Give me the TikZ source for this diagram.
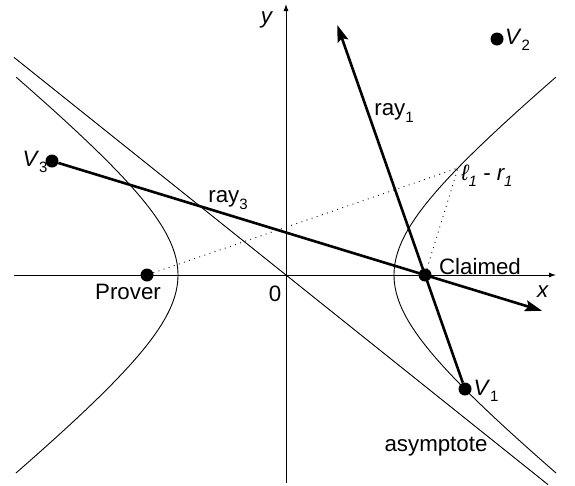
\documentclass[tikz,border=0pt]{standalone}
\usepackage{fontspec}
\setmainfont{Liberation Sans}
\usetikzlibrary{arrows.meta,calc}
\newcommand\lowsub[1]{\raisebox{-0.28em}{\fontsize{15}{15}\selectfont #1}}
\begin{document}
\begin{tikzpicture}[x=1pt,y=-1pt,
  thinline/.style={line width=0.9pt},
  axis/.style={line width=0.9pt,-{Latex[length=7pt,width=5pt]}},
  rayline/.style={line width=2.6pt,-{Stealth[length=17pt,width=11pt,inset=3pt]}},
  dot/.style={circle,fill=black,inner sep=0pt,minimum size=13pt},
  lbl/.style={inner sep=0pt,font=\fontsize{22.3}{26}\selectfont},
  dots/.style={line width=0.9pt,dash pattern=on 0.9pt off 4.5pt}]
\useasboundingbox (0,0) rectangle (575,485);
% asymptote
\coordinate (asyA) at (14,57.4);
\coordinate (asyB) at (548,484.6);
\draw[thinline] (asyA) -- (asyB);
% hyperbola branches
\draw[thinline] plot[domain=-1.567:1.567,samples=90,variable=\t] ({286+108*cosh(\t)},{275-86.4*sinh(\t)});
\draw[thinline] plot[domain=-1.567:1.567,samples=90,variable=\t] ({286-108*cosh(\t)},{275-86.4*sinh(\t)});
% axes
\coordinate (xs) at (14,275);
\coordinate (xe) at (556,275);
\coordinate (ys) at (286,483);
\coordinate (ye) at (286,4);
\draw[axis] (xs) -- (xe);
\draw[axis] (ys) -- (ye);
% points
\node[dot] (prover) at (147,275) {};
\node[dot] (claimed) at (425,275) {};
\node[dot] (v1) at (465,389) {};
\node[dot] (v2) at (497,39) {};
\node[dot] (v3) at (52,161) {};
\coordinate (L) at (458,168);
% dotted lines
\draw[dots] (prover) -- (L) -- (claimed);
% rays
\coordinate (tip1) at ($(v1)!3.193!(claimed)$);
\coordinate (tip3) at ($(v3)!1.3137!(claimed)$);
\draw[rayline] (v1) -- (tip1);
\draw[rayline] (v3) -- (tip3);
% labels
\node[lbl] (ly) at (267,20) {\textit{y}};
\node[lbl] (lx) at (543,292) {\textit{x}};
\node[lbl] (l0) at (275,293.5) {0};
\node[lbl] (lprover) at (128,292) {Prover};
\node[lbl] (lclaimed) at (480,266.5) {Claimed};
\node[lbl] (lv1) at (486,391) {\textit{V}\lowsub{1}};
\node[lbl] (lv2) at (517.5,40) {\textit{V}\lowsub{2}};
\node[lbl] (lv3) at (35,162) {\textit{V}\lowsub{3}};
\node[lbl] (lray1) at (394,113) {ray\lowsub{1}};
\node[lbl] (lray3) at (228,200) {ray\lowsub{3}};
\node[lbl] (lasy) at (436,447) {asymptote};
\node[lbl] (llr) at (487,176) {\textit{ℓ\lowsub{\textit{1}} - r\lowsub{\textit{1}}}};
\end{tikzpicture}
\end{document}
